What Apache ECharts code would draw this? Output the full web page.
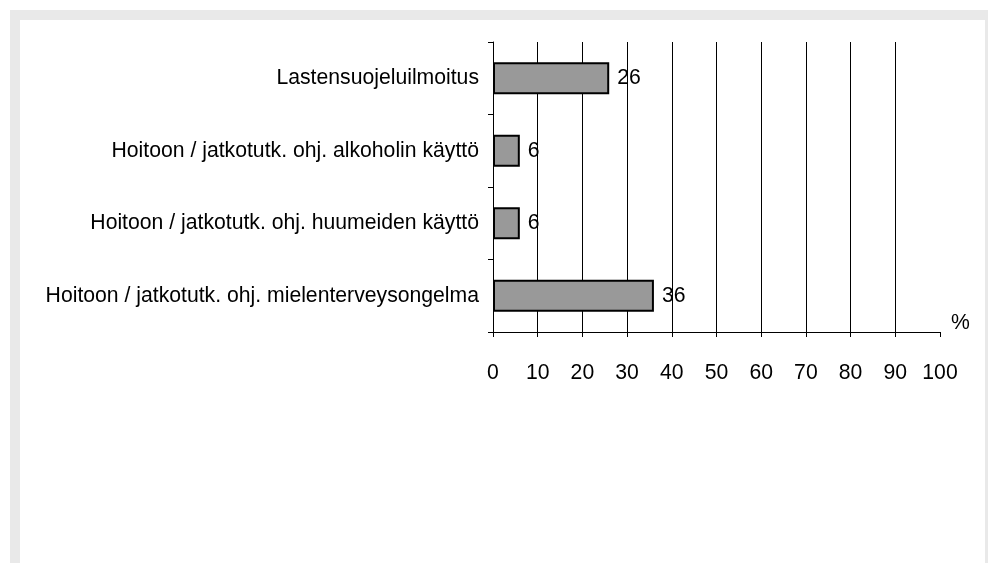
<!DOCTYPE html>
<html>
<head>
<meta charset="utf-8">
<script src="https://cdn.jsdelivr.net/npm/echarts@6/dist/echarts.min.js"></script>
<style>
  html, body { margin: 0; padding: 0; background: #ffffff; }
  #frame { position: absolute; left: 10px; top: 10px; width: 978px; height: 553px; background: #e9e9e9; }
  #inner { position: absolute; left: 20px; top: 20px; width: 965px; height: 543px; background: #ffffff; }
  #chart { position: absolute; left: 0; top: 0; width: 988px; height: 563px; }
</style>
</head>
<body>
<div id="frame"></div>
<div id="inner"></div>
<div id="chart"></div>
<script>
var categories = [
  'Lastensuojeluilmoitus',
  'Hoitoon / jatkotutk. ohj. alkoholin käyttö',
  'Hoitoon / jatkotutk. ohj. huumeiden käyttö',
  'Hoitoon / jatkotutk. ohj. mielenterveysongelma'
];
var values = [26, 6, 6, 36];
var axisMin = 0, axisMax = 100, axisStep = 10;
var axisUnit = '%';

var font = "'Liberation Sans', Arial, sans-serif";
var fs = 21.2;
var chart = echarts.init(document.getElementById('chart'), null, { renderer: 'canvas' });
chart.setOption({
  backgroundColor: 'transparent',
  animation: false,
  grid: { left: 493, right: 48, top: 42, bottom: 231, containLabel: false },
  xAxis: {
    type: 'value', min: axisMin, max: axisMax, interval: axisStep,
    name: axisUnit, nameLocation: 'end', nameGap: 11,
    nameTextStyle: { color: '#000', fontSize: fs, fontFamily: font, verticalAlign: 'bottom', lineHeight: 17 },
    axisLine: { show: true, lineStyle: { color: '#000', width: 1 } },
    axisTick: { show: true, length: 5, lineStyle: { color: '#000' } },
    axisLabel: { color: '#000', fontSize: fs, fontFamily: font, margin: 31 },
    splitLine: { show: true, showMaxLine: false, lineStyle: { color: '#000', width: 1 } }
  },
  yAxis: {
    type: 'category', data: categories, inverse: true,
    axisLine: { show: true, lineStyle: { color: '#000', width: 1 } },
    axisTick: { show: true, length: 5, lineStyle: { color: '#000' } },
    axisLabel: { color: '#000', fontSize: fs, fontFamily: font, margin: 14 },
    splitLine: { show: false }
  },
  series: [{
    type: 'bar', data: values, barWidth: 32,
    itemStyle: { color: '#999999', borderColor: '#000', borderWidth: 2 },
    label: { show: true, position: 'right', distance: 8, color: '#000', fontSize: fs, fontFamily: font }
  }]
});
</script>
</body>
</html>
